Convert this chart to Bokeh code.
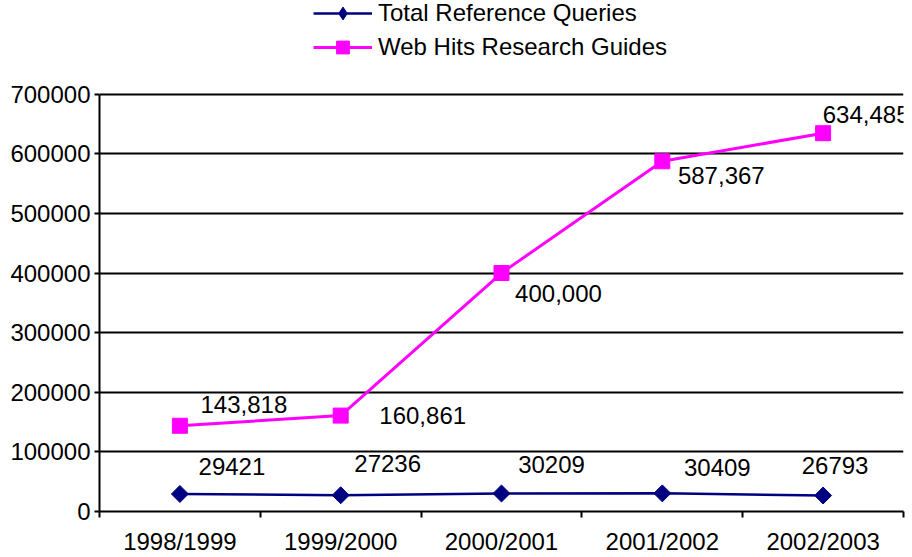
import math
from bokeh.plotting import figure
from bokeh.models import Range1d, FixedTicker, Legend, LegendItem, ColumnDataSource, BasicTickFormatter
from bokeh.core.properties import value
from bokeh.embed import file_html
from bokeh.resources import INLINE

categories = ["1998/1999", "1999/2000", "2000/2001", "2001/2002", "2002/2003"]
total_reference_queries = [29421, 27236, 30209, 30409, 26793]
web_hits_research_guides = [143818, 160861, 400000, 587367, 634485]
y_ticks = [0, 100000, 200000, 300000, 400000, 500000, 600000, 700000]
y_max = 700000

# label offsets (screen px) - styling only
ref_dx = [52, 47, 50, 55, 12]
ref_dy = [-27, -32, -29, -26, -30]
web_dx = [64, 82, 57, 59, 43]
web_dy = [-21, 0, 20, 14, -19]

FONT = "Liberation Sans"
FS = "24px"
NAVY = "#000080"
MAGENTA = "#FF00FF"

# layout: frame spans the full height, the axis area is the lower 419 of 513 px
FRAME_TOP_PX, AXIS_TOP_PX, AXIS_BOTTOM_PX = 0, 94, 513
y_top = y_max * (AXIS_BOTTOM_PX - FRAME_TOP_PX) / (AXIS_BOTTOM_PX - AXIS_TOP_PX)

xs = [i + 0.5 for i in range(len(categories))]

p = figure(width=912, height=557, output_backend="svg", toolbar_location=None,
           x_range=Range1d(0, len(categories)), y_range=Range1d(0, y_top),
           min_border_left=99, min_border_right=9, min_border_top=0, min_border_bottom=44)
p.outline_line_color = None
p.background_fill_color = "white"
p.border_fill_color = "white"

# axes
p.xaxis.ticker = FixedTicker(ticks=xs, minor_ticks=list(range(len(categories) + 1)))
p.xaxis.major_label_overrides = {x: c for x, c in zip(xs, categories)}
p.xaxis.major_tick_line_color = None
p.xaxis.major_tick_out = 0
p.xaxis.major_tick_in = 0
p.xaxis.minor_tick_line_color = "black"
p.xaxis.minor_tick_line_width = 2
p.xaxis.minor_tick_out = 6
p.xaxis.minor_tick_in = 0
p.xaxis.major_label_standoff = 10

p.yaxis.ticker = FixedTicker(ticks=y_ticks)
p.yaxis.formatter = BasicTickFormatter(use_scientific=False)
p.yaxis.bounds = (0, y_max)
p.yaxis.major_tick_out = 5
p.yaxis.major_tick_in = 0
p.yaxis.minor_tick_line_color = None
p.yaxis.major_tick_line_width = 2
p.yaxis.major_label_standoff = 4

for ax in (p.xaxis, p.yaxis):
    ax.axis_line_color = "black"
    ax.axis_line_width = 2
    ax.major_tick_line_width = 2
    ax.major_label_text_font = FONT
    ax.major_label_text_font_size = FS
    ax.major_label_text_color = "black"

p.xgrid.grid_line_color = None
p.ygrid.ticker = FixedTicker(ticks=y_ticks)
p.ygrid.grid_line_color = "black"
p.ygrid.grid_line_width = 2

ref_src = ColumnDataSource(dict(x=xs, y=total_reference_queries,
                                label=[str(v) for v in total_reference_queries],
                                dx=ref_dx, dy=ref_dy))
web_src = ColumnDataSource(dict(x=xs, y=web_hits_research_guides,
                                label=[f"{v:,}" for v in web_hits_research_guides],
                                dx=web_dx, dy=web_dy))

r_line = p.line("x", "y", source=ref_src, color=NAVY, line_width=2.5)
r_mark = p.scatter("x", "y", source=ref_src, marker="square", size=12, angle=math.pi / 4,
                   fill_color=NAVY, line_color=NAVY)
# diamond used only for the legend swatch
r_leg = p.scatter("x", "y", source=ref_src, marker="diamond", size=20,
                  fill_color=NAVY, line_color=NAVY, visible=False)
w_line = p.line("x", "y", source=web_src, color=MAGENTA, line_width=3)
w_mark = p.scatter("x", "y", source=web_src, marker="square", size=15,
                   fill_color=MAGENTA, line_color=MAGENTA)

for src in (ref_src, web_src):
    p.text("x", "y", text="label", source=src, x_offset="dx", y_offset="dy",
           text_align="center", text_baseline="middle",
           text_font=value(FONT), text_font_size=FS, text_color="black")

legend = Legend(items=[
    LegendItem(label="Total Reference Queries", renderers=[r_line, r_leg]),
    LegendItem(label="Web Hits Research Guides", renderers=[w_line, w_mark]),
], location=(214, 448))
legend.border_line_color = None
legend.background_fill_alpha = 0
legend.padding = 0
legend.margin = 0
legend.spacing = 2
legend.glyph_width = 59
legend.glyph_height = 32
legend.label_standoff = 6
legend.label_text_font = FONT
legend.label_text_font_size = FS
legend.label_text_color = "black"
p.add_layout(legend)

open("out.html", "w").write(file_html(p, INLINE))
